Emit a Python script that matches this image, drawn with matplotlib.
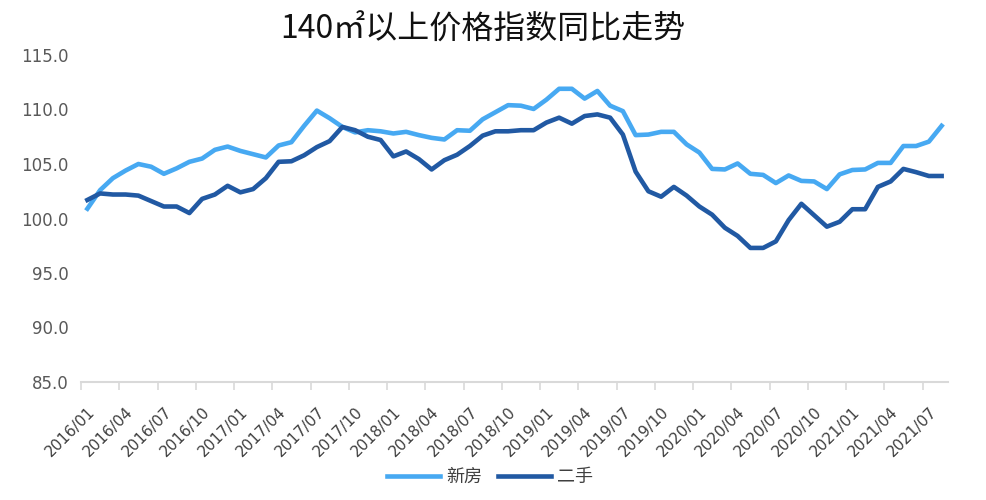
import numpy as np
import pandas as pd
import matplotlib
matplotlib.use('Agg')
import matplotlib.pyplot as plt

months = pd.period_range('2016-01', periods=68, freq='M').strftime('%Y/%m').tolist()

new_house = [100.9, 102.6, 103.7, 104.4, 105.0, 104.75, 104.1, 104.6, 105.2, 105.5,
             106.3, 106.6, 106.2, 105.9, 105.6, 106.7, 107.0, 108.5, 109.9, 109.2,
             108.4, 107.9, 108.1, 108.0, 107.8, 107.95, 107.65, 107.4, 107.25, 108.1,
             108.05, 109.1, 109.75, 110.4, 110.35, 110.05, 110.9, 111.9, 111.9, 111.0,
             111.7, 110.35, 109.85, 107.65, 107.7, 107.95, 107.95, 106.8, 106.05, 104.55,
             104.5, 105.05, 104.1, 104.0, 103.25, 103.95, 103.45, 103.4, 102.7, 104.05,
             104.45, 104.5, 105.1, 105.1, 106.65, 106.65, 107.05, 108.5]

second_hand = [101.7, 102.3, 102.2, 102.2, 102.1, 101.6, 101.1, 101.1, 100.5, 101.8,
               102.2, 103.0, 102.4, 102.7, 103.7, 105.2, 105.25, 105.8, 106.55, 107.1,
               108.4, 108.1, 107.5, 107.2, 105.7, 106.15, 105.45, 104.5, 105.35, 105.85,
               106.65, 107.6, 108.0, 108.0, 108.1, 108.1, 108.8, 109.25, 108.7, 109.4,
               109.55, 109.25, 107.7, 104.3, 102.5, 102.0, 102.9, 102.1, 101.1, 100.35,
               99.15, 98.4, 97.3, 97.3, 97.9, 99.85, 101.35, 100.3, 99.25, 99.7,
               100.85, 100.85, 102.9, 103.4, 104.55, 104.25, 103.9, 103.9]

light = '#47A9F2'
dark = '#2159A3'
cjk = ['Noto Sans CJK SC', 'DejaVu Sans']

fig = plt.figure(figsize=(9.86, 5.0), dpi=100)
ax = fig.add_axes([81 / 986, 118 / 500, 867 / 986, 327 / 500])

x = np.arange(len(months))
ax.plot(x, new_house, color=light, lw=3.3, label='新房', solid_joinstyle='round')
ax.plot(x, second_hand, color=dark, lw=3.3, label='二手', solid_joinstyle='round')

ax.set_xlim(-0.5, len(months) - 0.5)
ax.set_ylim(85, 115)
ax.set_yticks(np.arange(85, 116, 5))
ax.set_yticklabels([f'{v:.1f}' for v in np.arange(85, 116, 5)])
ax.tick_params(axis='y', length=0, pad=9, labelsize=12, labelcolor='#595959')

# ticks between categories, labels at category centres
ax.set_xticks(np.arange(-0.5, len(months), 3))
ax.set_xticklabels([])
ax.tick_params(axis='x', which='major', length=6, width=1.2, color='#d9d9d9')
ax.set_xticks(x[::3], minor=True)
ax.set_xticklabels(months[::3], minor=True, rotation=45, ha='right', va='top',
                   rotation_mode='anchor')
ax.tick_params(axis='x', which='minor', length=0, pad=16, labelsize=11, labelcolor='#404040')

for s in ['left', 'right', 'top']:
    ax.spines[s].set_visible(False)
ax.spines['bottom'].set_color('#d9d9d9')
ax.spines['bottom'].set_linewidth(1.5)

fig.text(0.49, 0.94, '140㎡以上价格指数同比走势', ha='center', va='center',
         fontsize=23, family=cjk, color='#111111')

leg = fig.legend(loc='center', bbox_to_anchor=(0.497, 0.046), ncol=2, frameon=False,
                 handlelength=2.9, columnspacing=0.9, handletextpad=0.35,
                 prop={'family': cjk, 'size': 13})
for t in leg.get_texts():
    t.set_color('#404040')

fig.savefig('out.png', dpi=100)
